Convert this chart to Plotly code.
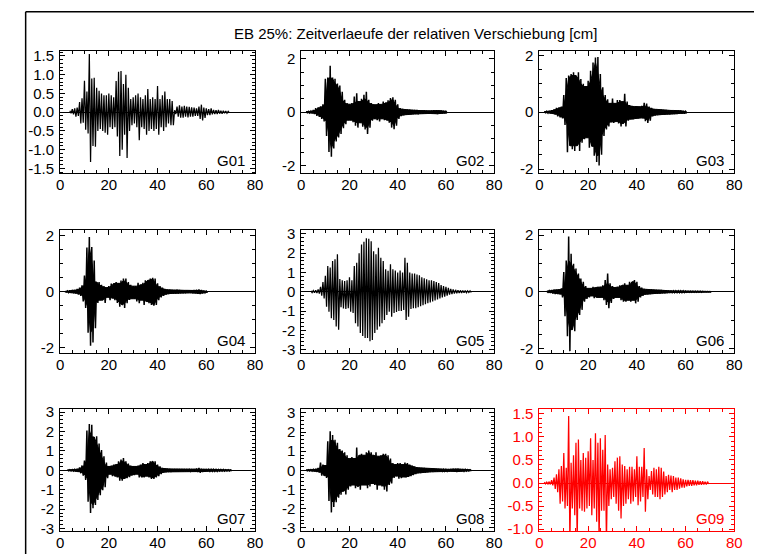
import plotly.graph_objects as go

W, H = 762, 560
TITLE = "EB 25%: Zeitverlaeufe der relativen Verschiebung [cm]"
NAMES = ["G01", "G02", "G03", "G04", "G05", "G06", "G07", "G08", "G09"]
X_TICKS = [0, 20, 40, 60, 80]
STEP = 1.0  # seconds between successive read-off cycles

# ---- values: positive / negative peak per cycle ----
G01_T0 = 4
G01_UP = [0.04, 0.08, 0.10, 0.12, 0.27, 0.37, 0.84, 0.55, 1.55, 0.90, 0.92, 0.65, 0.57, 0.50, 0.45,
          0.45, 0.50, 0.45, 0.40, 0.83, 1.08, 1.10, 0.75, 1.00, 0.65, 0.35, 0.40, 0.45, 0.50, 0.40,
          0.35, 0.45, 0.62, 0.35, 0.40, 0.35, 0.70, 0.35, 0.45, 0.55, 0.35, 0.35, 0.30, 0.05, 0.15,
          0.18, 0.15, 0.17, 0.15, 0.14, 0.13, 0.12, 0.10, 0.15, 0.20, 0.12, 0.10, 0.08, 0.10, 0.06,
          0.05, 0.06, 0.04, 0.04, 0.03, 0.02]
G01_LO = [-0.03, -0.06, -0.12, -0.10, -0.30, -0.28, -0.47, -0.57, -1.33, -0.90, -0.92, -0.50, -0.45,
          -0.50, -0.55, -0.60, -0.40, -0.45, -0.40, -0.65, -1.17, -1.00, -0.60, -1.22, -0.50, -0.35,
          -0.30, -0.40, -0.75, -0.40, -0.45, -0.60, -0.50, -0.45, -0.50, -0.45, -0.60, -0.40, -0.50,
          -0.40, -0.30, -0.35, -0.35, -0.05, -0.12, -0.15, -0.15, -0.12, -0.14, -0.12, -0.12, -0.10,
          -0.10, -0.18, -0.22, -0.15, -0.08, -0.08, -0.06, -0.05, -0.05, -0.04, -0.04, -0.03, -0.03,
          -0.02]

G02_T0 = 2
G02_UP = [0.02, 0.03, 0.04, 0.08, 0.15, 0.18, 0.22, 0.30, 1.26, 1.30, 1.75, 1.30, 1.26, 1.08, 1.00,
          0.77, 0.47, 0.34, 0.30, 0.34, 0.59, 0.71, 0.40, 0.50, 0.65, 0.77, 0.47, 0.34, 0.30, 0.28,
          0.34, 0.30, 0.40, 0.35, 0.45, 0.53, 0.56, 0.47, 0.30, 0.15, 0.12, 0.10, 0.10, 0.09, 0.08,
          0.08, 0.08, 0.07, 0.06, 0.06, 0.05, 0.05, 0.06, 0.07, 0.07, 0.06, 0.06, 0.05, 0.03]
G02_LO = [-0.02, -0.03, -0.04, -0.07, -0.14, -0.18, -0.25, -0.35, -0.90, -1.50, -1.68, -1.37, -1.10,
          -0.95, -0.82, -0.60, -0.45, -0.30, -0.30, -0.38, -0.51, -0.58, -0.40, -0.55, -0.65, -0.82,
          -0.58, -0.32, -0.25, -0.30, -0.35, -0.25, -0.30, -0.30, -0.40, -0.58, -0.64, -0.51, -0.25,
          -0.15, -0.12, -0.10, -0.09, -0.08, -0.08, -0.07, -0.08, -0.06, -0.06, -0.05, -0.05, -0.05,
          -0.05, -0.06, -0.07, -0.06, -0.05, -0.04, -0.03]

G03_T0 = 2
G03_UP = [0.02, 0.03, 0.05, 0.07, 0.10, 0.15, 0.16, 0.20, 0.60, 1.20, 1.29, 1.34, 1.40, 1.29, 1.40,
          1.17, 1.00, 0.90, 1.10, 1.46, 1.75, 1.92, 1.94, 1.34, 0.88, 0.60, 0.45, 0.31, 0.48, 0.31,
          0.43, 0.43, 0.37, 0.65, 0.37, 0.25, 0.22, 0.20, 0.20, 0.19, 0.22, 0.33, 0.30, 0.20, 0.15,
          0.12, 0.10, 0.10, 0.09, 0.08, 0.08, 0.07, 0.07, 0.06, 0.06, 0.06, 0.06, 0.05, 0.03]
G03_LO = [-0.02, -0.03, -0.04, -0.06, -0.08, -0.15, -0.18, -0.22, -0.45, -1.41, -1.18, -1.30, -1.36,
          -1.18, -1.36, -1.07, -0.95, -0.90, -1.25, -1.20, -1.53, -1.75, -1.87, -1.50, -0.84, -0.61,
          -0.50, -0.35, -0.38, -0.33, -0.40, -0.50, -0.40, -0.50, -0.30, -0.25, -0.25, -0.24, -0.22,
          -0.20, -0.22, -0.32, -0.38, -0.30, -0.15, -0.12, -0.10, -0.09, -0.09, -0.08, -0.07, -0.07,
          -0.06, -0.06, -0.06, -0.05, -0.05, -0.05, -0.03]

G04_T0 = 2
G04_UP = [0.01, 0.03, 0.05, 0.06, 0.06, 0.10, 0.15, 0.23, 0.58, 1.58, 1.95, 1.60, 1.11, 0.35, 0.35,
          0.25, 0.20, 0.15, 0.20, 0.29, 0.30, 0.35, 0.30, 0.40, 0.47, 0.47, 0.35, 0.25, 0.20, 0.20,
          0.32, 0.25, 0.32, 0.41, 0.41, 0.47, 0.50, 0.47, 0.30, 0.20, 0.15, 0.10, 0.08, 0.07, 0.06,
          0.06, 0.07, 0.06, 0.05, 0.05, 0.05, 0.05, 0.05, 0.06, 0.07, 0.08, 0.06, 0.04, 0.02]
G04_LO = [-0.01, -0.03, -0.04, -0.05, -0.06, -0.10, -0.15, -0.35, -0.58, -1.46, -1.93, -1.81, -1.30,
          -0.40, -0.30, -0.30, -0.40, -0.20, -0.30, -0.23, -0.30, -0.40, -0.53, -0.47, -0.58, -0.41,
          -0.29, -0.25, -0.25, -0.35, -0.41, -0.30, -0.47, -0.35, -0.41, -0.47, -0.50, -0.47, -0.30,
          -0.20, -0.15, -0.10, -0.08, -0.07, -0.06, -0.06, -0.06, -0.05, -0.05, -0.05, -0.04, -0.04,
          -0.05, -0.05, -0.07, -0.08, -0.06, -0.04, -0.02]

G05_T0 = 4
G05_UP = [0.05, 0.06, 0.08, 0.12, 0.25, 0.50, 0.83, 1.34, 1.26, 1.60, 1.68, 1.94, 0.66, 0.60, 0.55,
          0.60, 0.75, 0.60, 1.34, 1.50, 2.00, 2.45, 2.60, 2.78, 2.75, 2.62, 2.10, 1.94, 2.28, 1.77,
          1.60, 1.17, 1.09, 1.43, 1.17, 1.10, 1.00, 1.10, 1.00, 1.77, 1.50, 1.00, 0.95, 0.95, 0.90,
          0.85, 0.75, 0.70, 0.65, 0.60, 0.60, 0.55, 0.50, 0.45, 0.35, 0.30, 0.25, 0.20, 0.15, 0.12,
          0.10, 0.08, 0.07, 0.06, 0.06, 0.05, 0.05]
G05_LO = [-0.04, -0.05, -0.07, -0.10, -0.20, -0.35, -0.78, -1.04, -1.38, -1.46, -1.80, -1.97, -0.80,
          -0.87, -0.90, -0.85, -1.04, -1.10, -1.63, -1.80, -2.14, -2.30, -2.40, -2.40, -2.57, -2.50,
          -2.14, -1.97, -1.80, -1.63, -1.46, -1.20, -1.04, -1.30, -1.10, -1.05, -1.00, -1.00, -0.95,
          -1.46, -1.30, -0.90, -0.85, -0.85, -0.80, -0.75, -0.70, -0.65, -0.60, -0.55, -0.50, -0.45,
          -0.40, -0.35, -0.30, -0.25, -0.20, -0.15, -0.12, -0.10, -0.08, -0.07, -0.06, -0.05, -0.05,
          -0.04, -0.04]

G06_T0 = 3
G06_UP = [0.02, 0.04, 0.06, 0.07, 0.07, 0.08, 0.12, 0.70, 1.10, 1.95, 1.34, 0.99, 0.82, 0.64, 0.47,
          0.35, 0.20, 0.12, 0.12, 0.17, 0.15, 0.17, 0.17, 0.23, 0.41, 0.64, 0.30, 0.20, 0.15, 0.17,
          0.23, 0.23, 0.30, 0.23, 0.35, 0.35, 0.41, 0.35, 0.20, 0.15, 0.10, 0.09, 0.08, 0.08, 0.07,
          0.07, 0.06, 0.06, 0.05, 0.05, 0.04, 0.04, 0.03, 0.03, 0.03, 0.03, 0.03, 0.02, 0.02, 0.02,
          0.02, 0.02, 0.02, 0.02, 0.01, 0.01, 0.01, 0.01]
G06_LO = [-0.02, -0.04, -0.06, -0.08, -0.08, -0.09, -0.20, -0.87, -1.57, -2.10, -1.34, -1.40, -1.00,
          -0.82, -0.64, -0.35, -0.25, -0.20, -0.15, -0.23, -0.20, -0.20, -0.20, -0.30, -0.47, -0.58,
          -0.40, -0.25, -0.20, -0.20, -0.30, -0.35, -0.35, -0.30, -0.35, -0.30, -0.41, -0.35, -0.20,
          -0.15, -0.10, -0.09, -0.08, -0.07, -0.07, -0.06, -0.06, -0.05, -0.05, -0.04, -0.04, -0.03,
          -0.03, -0.03, -0.03, -0.03, -0.03, -0.02, -0.02, -0.02, -0.02, -0.02, -0.02, -0.02, -0.01,
          -0.01, -0.01, -0.01]

G07_T0 = 3
G07_UP = [0.02, 0.03, 0.04, 0.05, 0.08, 0.15, 0.25, 0.50, 2.05, 2.38, 2.35, 1.72, 1.75, 1.38, 1.05,
          0.72, 0.40, 0.20, 0.25, 0.30, 0.30, 0.47, 0.55, 0.63, 0.47, 0.35, 0.25, 0.20, 0.20, 0.25,
          0.30, 0.38, 0.30, 0.38, 0.47, 0.47, 0.47, 0.30, 0.20, 0.12, 0.10, 0.08, 0.08, 0.07, 0.07,
          0.07, 0.06, 0.06, 0.06, 0.06, 0.05, 0.06, 0.07, 0.09, 0.12, 0.08, 0.06, 0.06, 0.05, 0.05,
          0.05, 0.05, 0.04, 0.04, 0.04, 0.03, 0.03, 0.02]
G07_LO = [-0.02, -0.03, -0.04, -0.05, -0.08, -0.15, -0.28, -0.50, -1.62, -2.20, -1.95, -1.78, -1.53,
          -1.28, -1.03, -0.87, -0.40, -0.20, -0.30, -0.30, -0.37, -0.53, -0.53, -0.45, -0.40, -0.35,
          -0.25, -0.25, -0.20, -0.37, -0.35, -0.37, -0.30, -0.37, -0.45, -0.45, -0.37, -0.30, -0.20,
          -0.12, -0.10, -0.08, -0.08, -0.07, -0.07, -0.07, -0.06, -0.06, -0.06, -0.06, -0.05, -0.06,
          -0.07, -0.09, -0.12, -0.08, -0.06, -0.06, -0.05, -0.05, -0.05, -0.05, -0.04, -0.04, -0.04,
          -0.03, -0.03, -0.02]

G08_T0 = 2
G08_UP = [0.02, 0.03, 0.04, 0.05, 0.08, 0.12, 0.40, 0.30, 0.25, 1.52, 2.05, 1.85, 1.60, 1.44, 1.11,
          1.03, 0.95, 0.79, 0.62, 0.70, 0.62, 1.20, 0.79, 0.87, 0.79, 0.95, 1.03, 0.95, 0.79, 0.95,
          0.74, 0.79, 0.87, 0.87, 0.79, 0.62, 0.38, 0.30, 0.38, 0.38, 0.30, 0.41, 0.38, 0.30, 0.25,
          0.20, 0.15, 0.14, 0.13, 0.12, 0.11, 0.10, 0.09, 0.08, 0.07, 0.06, 0.06, 0.05, 0.05, 0.06,
          0.07, 0.08, 0.08, 0.08, 0.07, 0.06, 0.05, 0.04, 0.03]
G08_LO = [-0.02, -0.03, -0.04, -0.05, -0.08, -0.12, -0.28, -0.28, -0.40, -1.60, -2.20, -1.92, -1.67,
          -1.43, -1.28, -1.10, -1.26, -1.02, -0.85, -0.77, -0.93, -0.85, -1.02, -0.77, -0.77, -0.93,
          -0.85, -0.69, -0.77, -1.02, -0.77, -0.85, -1.02, -1.10, -0.77, -0.69, -0.40, -0.30, -0.44,
          -0.41, -0.35, -0.36, -0.35, -0.30, -0.25, -0.20, -0.15, -0.14, -0.12, -0.11, -0.10, -0.09,
          -0.08, -0.07, -0.07, -0.06, -0.05, -0.05, -0.05, -0.05, -0.06, -0.07, -0.08, -0.07, -0.06,
          -0.05, -0.04, -0.03, -0.02]

G09_T0 = 2
G09_UP = [0.02, 0.02, 0.03, 0.06, 0.12, 0.19, 0.30, 0.37, 0.65, 0.33, 1.45, 0.44, 0.60, 0.87, 0.94,
          0.50, 0.65, 0.55, 0.69, 0.97, 0.50, 1.08, 0.87, 0.97, 0.72, 1.04, 0.40, 0.30, 0.33, 0.47,
          0.55, 0.58, 0.40, 0.37, 0.30, 0.35, 0.35, 0.30, 0.58, 0.35, 0.35, 0.76, 0.30, 0.15, 0.26,
          0.33, 0.30, 0.35, 0.33, 0.25, 0.15, 0.18, 0.16, 0.15, 0.12, 0.12, 0.10, 0.08, 0.07, 0.07,
          0.06, 0.06, 0.05, 0.05, 0.04, 0.04, 0.03, 0.03]
G09_LO = [-0.02, -0.02, -0.03, -0.05, -0.13, -0.20, -0.45, -0.40, -0.55, -0.50, -1.30, -0.55, -0.70,
          -1.30, -0.55, -0.60, -0.62, -0.55, -0.50, -0.70, -0.55, -0.84, -1.30, -0.60, -0.60, -1.30,
          -0.50, -0.35, -0.30, -0.45, -0.60, -0.77, -0.50, -0.45, -0.35, -0.45, -0.40, -0.30, -0.48,
          -0.40, -0.30, -0.62, -0.35, -0.15, -0.25, -0.30, -0.30, -0.35, -0.30, -0.25, -0.20, -0.15,
          -0.20, -0.15, -0.15, -0.12, -0.10, -0.10, -0.07, -0.06, -0.06, -0.05, -0.05, -0.04, -0.04,
          -0.03, -0.03, -0.02]

SERIES = [
    (G01_T0, G01_UP, G01_LO), (G02_T0, G02_UP, G02_LO), (G03_T0, G03_UP, G03_LO),
    (G04_T0, G04_UP, G04_LO), (G05_T0, G05_UP, G05_LO), (G06_T0, G06_UP, G06_LO),
    (G07_T0, G07_UP, G07_LO), (G08_T0, G08_UP, G08_LO), (G09_T0, G09_UP, G09_LO),
]

# axis ranges and tick labels per panel
Y_RANGES = [[-1.63, 1.63], [-2.3, 2.3], [-2.15, 2.15],
            [-2.2, 2.2], [-3.2, 3.2], [-2.18, 2.18],
            [-3.15, 3.15], [-3.2, 3.2], [-1.05, 1.6]]
Y_TICKS = [[-1.5, -1.0, -0.5, 0.0, 0.5, 1.0, 1.5], [-2, 0, 2], [-2, 0, 2],
           [-2, 0, 2], [-3, -2, -1, 0, 1, 2, 3], [-2, 0, 2],
           [-3, -2, -1, 0, 1, 2, 3], [-3, -2, -1, 0, 1, 2, 3], [-1.0, -0.5, 0.0, 0.5, 1.0, 1.5]]
Y_MINOR = [0.1, 0.5, 0.5, 0.5, 0.2, 0.5, 0.2, 0.2, 0.1]
Y_DECIMALS = [1, 0, 0, 0, 0, 0, 0, 0, 1]
DENSE = [False, True, True, True, False, True, True, True, False]
COLORS = ["black"] * 8 + ["#ff0000"]

# ---- layout geometry (pixels) ----
COL_PX = [(57, 255), (302, 498), (544, 742)]
ROW_PX = [(46, 171), (229, 355), (412, 537)]
FONT = "Liberation Sans, Arial, Helvetica, sans-serif"

fig = go.Figure()
layout = dict(width=W, height=H, margin=dict(l=0, r=0, t=0, b=0),
              paper_bgcolor="white", plot_bgcolor="white", showlegend=False,
              font=dict(family=FONT, size=15, color="black"))
annotations = []

for k in range(9):
    r, c = divmod(k, 3)
    sfx = "" if k == 0 else str(k + 1)
    col = COLORS[k]
    t0, up, lo = SERIES[k]
    n = len(up)
    t_up = [t0 + i * STEP for i in range(n)]
    t_lo = [t + STEP / 2 for t in t_up]
    if DENSE[k]:
        # solid core of the dense record: smallest neighbouring peak on each side
        core_up = [min(up[max(i - 1, 0):i + 2]) for i in range(n)]
        core_lo = [max(lo[max(i - 1, 0):i + 2]) for i in range(n)]
        fig.add_trace(go.Scatter(
            x=t_up + t_lo[::-1], y=core_up + core_lo[::-1], mode="lines",
            line=dict(color=col, width=1), fill="toself", fillcolor=col,
            xaxis=f"x{sfx}", yaxis=f"y{sfx}", hoverinfo="skip"))
    xs, ys = [], []
    for tu, tl, u, l in zip(t_up, t_lo, up, lo):
        xs += [tu, tl]
        ys += [u, l]
    fig.add_trace(go.Scatter(
        x=xs, y=ys, mode="lines",
        line=dict(color=col, width=1.5 if DENSE[k] else 1.25),
        fill="toself" if DENSE[k] else "none", fillcolor=col,
        xaxis=f"x{sfx}", yaxis=f"y{sfx}", hoverinfo="skip"))

    x0, x1 = COL_PX[c]
    y0, y1 = ROW_PX[r]
    d = Y_DECIMALS[k]
    ytext = [f"{v:.{d}f}" for v in Y_TICKS[k]]
    common = dict(showline=True, linecolor=col, linewidth=1, mirror="allticks",
                  ticks="inside", ticklen=5, tickwidth=1, tickcolor=col,
                  showgrid=False, tickfont=dict(family=FONT, size=15, color=col))
    layout[f"xaxis{sfx}"] = dict(
        domain=[x0 / W, x1 / W], range=[0, 80], anchor=f"y{sfx}",
        tickmode="array", tickvals=X_TICKS, ticktext=[str(v) for v in X_TICKS],
        zeroline=False, ticklabelstandoff=-2,
        minor=dict(tickmode="linear", tick0=0, dtick=5, ticks="inside", ticklen=3,
                   tickcolor=col, showgrid=False),
        **common)
    layout[f"yaxis{sfx}"] = dict(
        domain=[1 - y1 / H, 1 - y0 / H], range=Y_RANGES[k], anchor=f"x{sfx}",
        tickmode="array", tickvals=Y_TICKS[k], ticktext=ytext,
        zeroline=True, zerolinecolor=col, zerolinewidth=1, ticklabelstandoff=2,
        minor=dict(tickmode="linear", tick0=0, dtick=Y_MINOR[k], ticks="inside", ticklen=3,
                   tickcolor=col, showgrid=False),
        **common)
    annotations.append(dict(
        text=NAMES[k], xref=f"x{sfx} domain", yref=f"y{sfx} domain", x=1, y=0,
        xanchor="right", yanchor="bottom", xshift=-8, yshift=2, showarrow=False,
        font=dict(family=FONT, size=15, color=col)))

annotations.append(dict(text=TITLE, xref="paper", yref="paper", x=419 / W, y=1 - 28 / H,
                        xanchor="center", yanchor="middle", showarrow=False,
                        font=dict(family=FONT, size=15, color="black")))
layout["annotations"] = annotations
layout["shapes"] = [
    dict(type="line", xref="paper", yref="paper", x0=22 / W, x1=1.0, y0=1 - 6 / H, y1=1 - 6 / H,
         line=dict(color="black", width=1.5)),
    dict(type="line", xref="paper", yref="paper", x0=22 / W, x1=22 / W, y0=0, y1=1 - 6 / H,
         line=dict(color="black", width=1.5)),
]
fig.update_layout(**layout)
fig.write_html("out.html", config={"displayModeBar": False},
               post_script="document.body.style.margin='0';document.body.style.overflow='hidden';")
